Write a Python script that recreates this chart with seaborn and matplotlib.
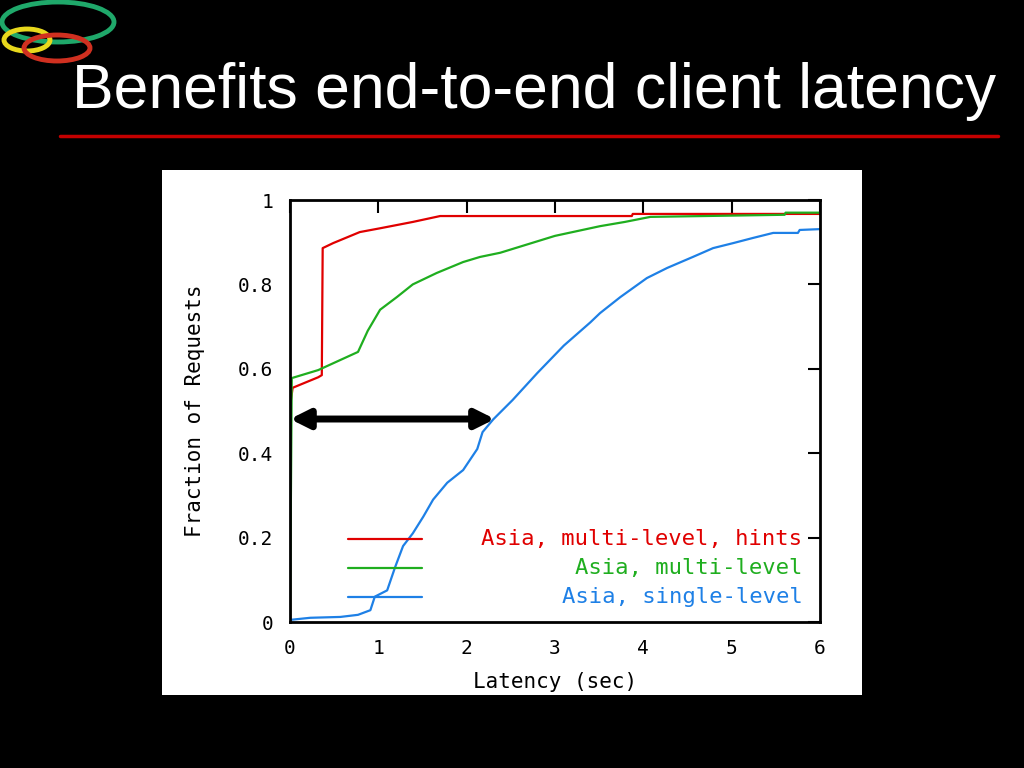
import matplotlib
matplotlib.use("Agg")
import matplotlib.pyplot as plt
import pandas as pd
import seaborn as sns
from matplotlib.patches import Ellipse, Rectangle
from matplotlib.lines import Line2D

# CDF of client latency
hints_x = [0, 0, 0.03, 0.32, 0.36, 0.37, 0.49, 0.79, 1.02, 1.39, 1.70, 3.87, 3.88, 6.0]
hints_y = [0, 0.51, 0.555, 0.58, 0.585, 0.886, 0.898, 0.924, 0.933, 0.948, 0.962, 0.962, 0.967, 0.967]

multi_x = [0, 0.02, 0.32, 0.77, 0.88, 1.02, 1.21, 1.39, 1.66, 1.96, 2.15, 2.38, 3.0, 3.51, 3.79, 4.08, 5.6, 5.61, 6.0]
multi_y = [0, 0.578, 0.597, 0.64, 0.69, 0.74, 0.77, 0.80, 0.827, 0.853, 0.865, 0.875, 0.915, 0.938, 0.948, 0.96, 0.965, 0.97, 0.97]

single_x = [0, 0.23, 0.57, 0.77, 0.91, 0.96, 1.10, 1.19, 1.28, 1.39, 1.51, 1.62, 1.78, 1.96, 2.12, 2.18, 2.30,
            2.52, 2.8, 3.1, 3.4, 3.51, 3.74, 4.04, 4.27, 4.56, 4.79, 5.02, 5.24, 5.47, 5.75, 5.77, 6.0]
single_y = [0.005, 0.01, 0.012, 0.017, 0.028, 0.06, 0.075, 0.13, 0.18, 0.21, 0.25, 0.29, 0.33, 0.36, 0.41, 0.45, 0.48,
            0.526, 0.59, 0.655, 0.71, 0.732, 0.77, 0.815, 0.839, 0.865, 0.886, 0.898, 0.91, 0.922, 0.922, 0.929, 0.931]

labels = ["Asia, multi-level, hints", "Asia, multi-level", "Asia, single-level"]
colors = ["#e00000", "#1fae1f", "#1e80e6"]
arrow_y = 0.481
arrow_x = [0, 2.32]

df = pd.concat([
    pd.DataFrame({"latency": hints_x, "frac": hints_y, "series": labels[0]}),
    pd.DataFrame({"latency": multi_x, "frac": multi_y, "series": labels[1]}),
    pd.DataFrame({"latency": single_x, "frac": single_y, "series": labels[2]}),
])

sns.set_style("white")
mono = ["DejaVu Sans Mono"]

fig = plt.figure(figsize=(10.24, 7.68), dpi=100, facecolor="black")

# slide decorations
fig.add_artist(Ellipse((58 / 1024, 1 - 22 / 768), 112 / 1024, 40 / 768, fill=False, ec="#1fa86a", lw=3.5))
fig.add_artist(Ellipse((27 / 1024, 1 - 40 / 768), 46 / 1024, 22 / 768, fill=False, ec="#e8d81c", lw=3.5))
fig.add_artist(Ellipse((57 / 1024, 1 - 48 / 768), 66 / 1024, 26 / 768, fill=False, ec="#d03020", lw=3.5))
fig.text(72 / 1024, 1 - 108 / 768, "Benefits end-to-end client latency", color="white",
         fontsize=45, family="Liberation Sans", va="baseline", ha="left")
fig.add_artist(Line2D([60 / 1024, 998 / 1024], [1 - 136 / 768] * 2, color="#c40000", lw=2.5))

# white panel behind the chart
fig.add_artist(Rectangle((162 / 1024, 1 - 695 / 768), 700 / 1024, 525 / 768, fc="white", ec="none", zorder=0))

ax = fig.add_axes([290 / 1024, 1 - 622 / 768, 530 / 1024, 422 / 768])
ax.set_facecolor("white")
sns.lineplot(data=df, x="latency", y="frac", hue="series", palette=colors, hue_order=labels,
             estimator=None, sort=False, lw=1.6, legend=False, ax=ax)

ax.annotate("", xy=(arrow_x[0], arrow_y), xytext=(arrow_x[1], arrow_y),
            arrowprops=dict(arrowstyle="<|-|>", color="black", lw=5, mutation_scale=28,
                            shrinkA=0, shrinkB=0))

ax.set_xlim(0, 6)
ax.set_ylim(0, 1)
ax.set_xticks(range(7))
ax.set_yticks([0, 0.2, 0.4, 0.6, 0.8, 1])
ax.set_yticklabels(["0", "0.2", "0.4", "0.6", "0.8", "1"], family=mono, fontsize=14)
ax.set_xticklabels([str(i) for i in range(7)], family=mono, fontsize=14)
ax.tick_params(direction="in", length=9, width=1.5, top=True, right=True, pad=12,
               colors="black", labelcolor="black")
for s in ax.spines.values():
    s.set_visible(True)
    s.set_color("black")
    s.set_linewidth(2)
ax.set_xlabel("Latency (sec)", family=mono, fontsize=15, labelpad=10, color="black")
ax.set_ylabel("Fraction of Requests", family=mono, fontsize=15, labelpad=24, color="black")

# gnuplot-style key: sample on the left, text right-aligned
key_y = [0.197, 0.128, 0.059]
for lab, c, ky in zip(labels, colors, key_y):
    ax.plot([0.66, 1.49], [ky, ky], color=c, lw=1.6)
    ax.text(5.8, ky, lab, color=c, ha="right", va="center", family=mono, fontsize=16)

fig.savefig("out.png", dpi=100, facecolor="black")
